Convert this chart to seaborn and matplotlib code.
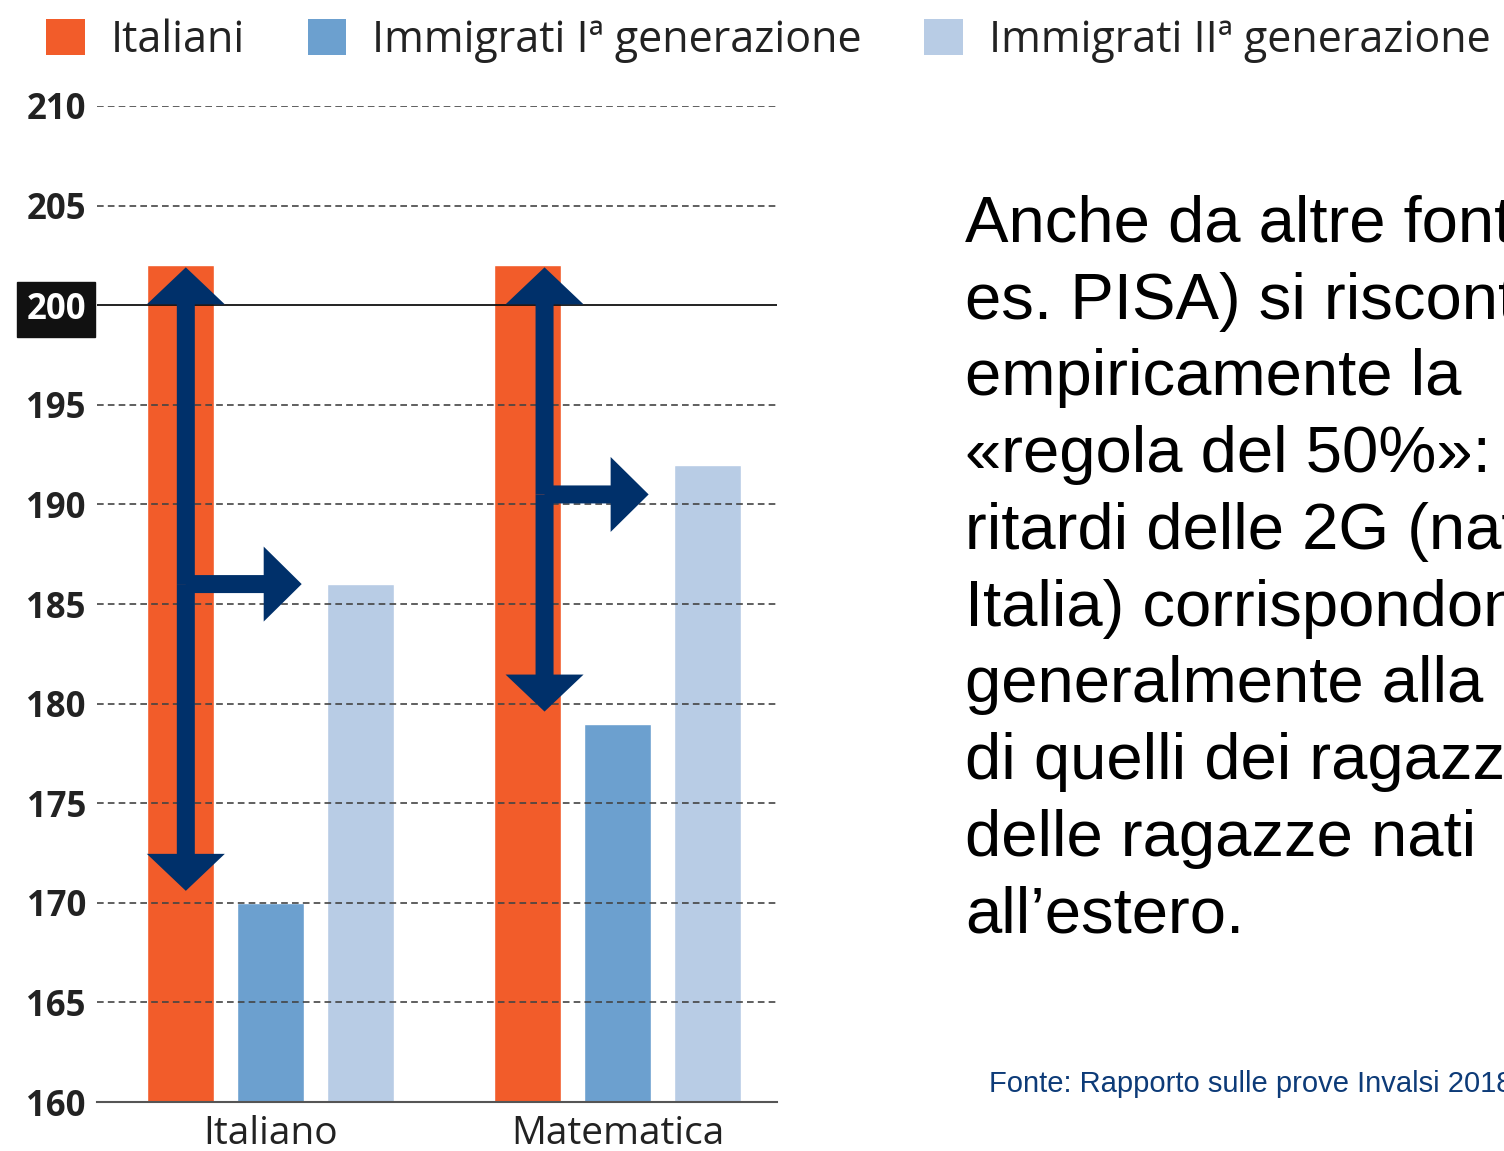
import matplotlib
matplotlib.use("Agg")
import matplotlib.pyplot as plt
import seaborn as sns
import pandas as pd
from matplotlib.patches import Patch, FancyArrow

# ---- data ----
materie = ["Italiano", "Matematica"]
gruppi = ["Italiani", "Immigrati Iª generazione", "Immigrati IIª generazione"]
italiani = [202, 202]
immigrati_1 = [170, 179]
immigrati_2 = [186, 192]
yticks = [160, 165, 170, 175, 180, 185, 190, 195, 200, 205, 210]

testo = ["Anche da altre fonti (ad",
         "es. PISA) si riscontra",
         "empiricamente la",
         "«regola del 50%»: i",
         "ritardi delle 2G (nati in",
         "Italia) corrispondono",
         "generalmente alla metà",
         "di quelli dei ragazzi e",
         "delle ragazze nati",
         "all’estero."]
fonte = "Fonte: Rapporto sulle prove Invalsi 2018"

colors = ["#F25C2A", "#6CA0CF", "#B8CCE5"]
navy = "#00306A"

rows = []
for i, m in enumerate(materie):
    for g, vals in zip(gruppi, [italiani, immigrati_1, immigrati_2]):
        rows.append({"materia": m, "gruppo": g, "punteggio": vals[i]})
df = pd.DataFrame(rows)

sns.set_theme(style="white")
plt.rcParams["font.family"] = ["Open Sans", "DejaVu Sans"]

W, H = 1504, 1151
fig = plt.figure(figsize=(W / 100, H / 100), dpi=100)
ax = fig.add_axes([97 / W, 1 - 1102 / H, (777 - 97) / W, (1102 - 106) / H])

sns.barplot(data=df, x="materia", y="punteggio", hue="gruppo", hue_order=gruppi,
            palette=colors, width=0.78, gap=0.26, saturation=1, errorbar=None,
            legend=False, ax=ax, zorder=1)

ax.set_ylim(160, 210)
ax.set_xlim(-0.5, 1.46)
ax.set_yticks(yticks)
ax.set_xlabel("")
ax.set_ylabel("")
for s in ["left", "right", "top"]:
    ax.spines[s].set_visible(False)
ax.spines["bottom"].set_color("#555555")
ax.spines["bottom"].set_linewidth(1.5)
ax.tick_params(axis="both", length=0)
ax.tick_params(axis="y", pad=8)
ax.tick_params(axis="x", pad=9)

for t in yticks[1:]:
    if t == 200:
        ax.axhline(t, color="#111111", lw=1.3, zorder=3)
    else:
        ax.axhline(t, color="#444444", lw=1.2, ls=(0, (4, 2.5)), zorder=3)

for lab in ax.get_yticklabels():
    lab.set_fontsize(25)
    lab.set_fontweight("bold")
    lab.set_color("#222222")
    if lab.get_text() == "200":
        lab.set_color("white")
        lab.set_bbox(dict(boxstyle="square,pad=0.27", fc="#111111", ec="#111111"))
for lab in ax.get_xticklabels():
    lab.set_fontsize(28)
    lab.set_color("#222222")

# ---- arrows derived from data ----
ppx = (777 - 97) / 1.96      # px per x unit
ppy = (1102 - 106) / 50.0    # px per y unit
bar_off = -0.26
arrow_dx = [0.016, 0.05]
tip_in = 0.6
for i in range(len(materie)):
    xv = i + bar_off + arrow_dx[i]
    top, bot = italiani[i] - 0.1, immigrati_1[i] + tip_in
    mid = (italiani[i] + immigrati_1[i]) / 2
    for a, b in [(mid, top), (mid, bot)]:
        ax.add_patch(FancyArrow(xv, a, 0, b - a, width=18 / ppx, head_width=78 / ppx,
                                head_length=37 / ppy, length_includes_head=True,
                                color=navy, lw=0, zorder=5))
    ax.add_patch(FancyArrow(xv, mid, (i + 0.09) - xv, 0, width=18 / ppy,
                            head_width=75 / ppy, head_length=38 / ppx,
                            length_includes_head=True, color=navy, lw=0, zorder=5))

# ---- legend ----
handles = [Patch(facecolor=c, edgecolor="none", label=g) for c, g in zip(colors, gruppi)]
fig.legend(handles=handles, loc="upper left", bbox_to_anchor=(0.005, 1.018), ncol=3,
           frameon=False, fontsize=31, handlelength=0.9, handleheight=0.9,
           handletextpad=0.6, columnspacing=1.45, labelcolor="#222222")

# ---- right text ----
for k, line in enumerate(testo):
    fig.text(965 / W, 1 - (242 + 76.7 * k) / H, line, fontsize=47,
             family=["Liberation Sans", "DejaVu Sans"], va="baseline", ha="left",
             color="black")
fig.text(989 / W, 1 - 1092 / H, fonte, fontsize=21, family=["Liberation Sans", "DejaVu Sans"],
         va="baseline", ha="left", color="#0D3B78")

fig.savefig("out.png", dpi=100)
